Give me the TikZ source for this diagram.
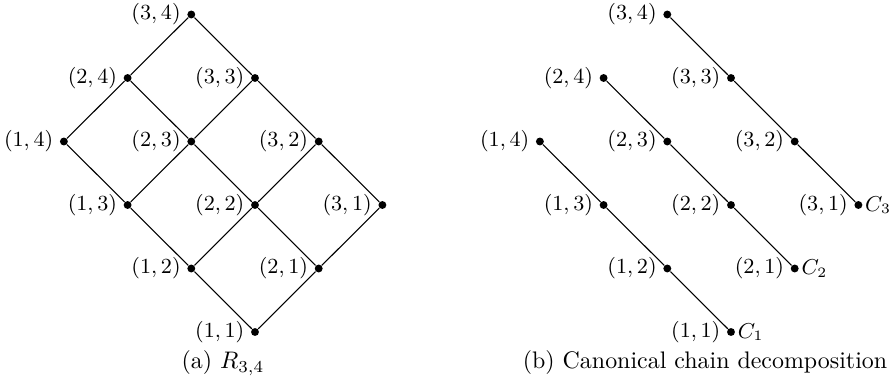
\documentclass[tikz,border=0pt]{standalone}
\begin{document}
\begin{tikzpicture}[x=0.418pt,y=-0.418pt,
  dot/.style={circle,fill,inner sep=0pt,minimum size=3.3pt},
  lbl/.style={font=\small,inner sep=0.8pt},
  edge/.style={line width=0.45pt}]
\useasboundingbox (0,0) rectangle (893,381);
% left poset R_{3,4}
\foreach \i in {1,2,3}{
  \foreach \j in {1,2,3,4}{
    \node[dot,label={[lbl,label distance=1.6pt]left:$(\i,\j)$}] (a-\i-\j) at ({255+63.7*(\i-\j)},{332-63.5*(\i+\j-2)}) {};
    \node[dot,label={[lbl,label distance=1.6pt]left:$(\i,\j)$}] (b-\i-\j) at ({731+63.7*(\i-\j)},{332-63.5*(\i+\j-2)}) {};
  }
}
\foreach \i in {1,2,3}{
  \foreach \j/\k in {1/2,2/3,3/4}{
    \draw[edge] (a-\i-\j) -- (a-\i-\k);
    \draw[edge] (b-\i-\j) -- (b-\i-\k);
  }
}
\foreach \i/\k in {1/2,2/3}{
  \foreach \j in {1,2,3,4}{
    \draw[edge] (a-\i-\j) -- (a-\k-\j);
  }
}
\node[lbl,anchor=west] (c1) at (b-1-1.east) {$C_1$};
\node[lbl,anchor=west] (c2) at (b-2-1.east) {$C_2$};
\node[lbl,anchor=west] (c3) at (b-3-1.east) {$C_3$};
\node (capa) at (223,363) {(a) $R_{3,4}$};
\node (capb) at (705,363) {(b) Canonical chain decomposition};
\end{tikzpicture}
\end{document}
